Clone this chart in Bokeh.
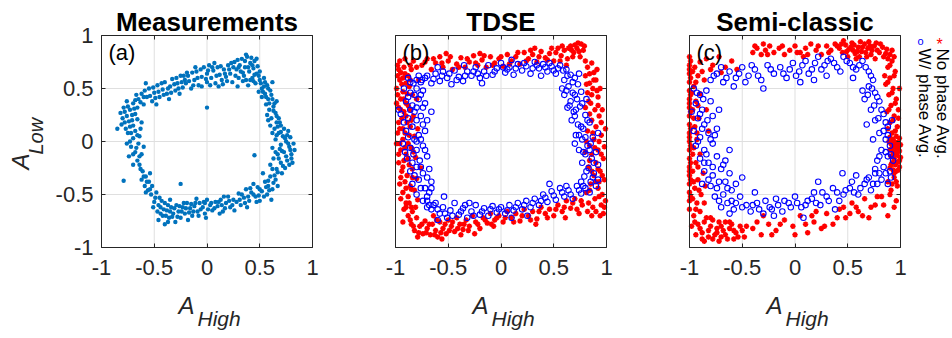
import math
from bokeh.plotting import figure
from bokeh.layouts import row
from bokeh.models import Range1d, FixedTicker, LinearAxis, Label
from bokeh.embed import file_html
from bokeh.resources import INLINE

# ---------------- data ----------------
titles = ["Measurements", "TDSE", "Semi-classic"]
panel_tags = ["(a)", "(b)", "(c)"]
tick_values = [-1.0, -0.5, 0.0, 0.5, 1.0]
tick_labels = ["-1", "-0.5", "0", "0.5", "1"]
legend_labels = ["No phase Avg.", "W/ phase Avg."]
x_label_main, x_label_sub = "A", "High"
y_label_main, y_label_sub = "A", "Low"

meas_points = [
    (-0.20,0.55),(-0.18,0.62),(-0.15,0.50),(-0.12,0.58),(-0.10,0.66),(-0.08,0.53),(-0.05,0.61),(-0.03,0.70),
    (0.00,0.56),(0.00,0.64),(0.02,0.72),(0.04,0.60),(0.06,0.67),(0.08,0.55),(0.10,0.70),(0.12,0.63),(0.14,0.58),
    (0.16,0.68),(0.18,0.61),(0.20,0.72),(-0.05,0.52),(0.07,0.74),(0.11,0.52),(-0.14,0.65),
    (-0.17,0.57),(-0.13,0.53),(-0.09,0.60),(-0.06,0.68),(-0.01,0.59),(0.01,0.67),(0.03,0.53),(0.05,0.70),(0.09,0.62),
    (0.13,0.71),(0.15,0.54),(0.17,0.64),(0.19,0.57),(0.21,0.68),(-0.19,0.65),(-0.11,0.70),
    (0.22,0.64),(0.24,0.56),(0.26,0.75),(0.28,0.68),(0.30,0.60),(0.31,0.72),(0.33,0.78),(0.34,0.65),(0.36,0.70),
    (0.37,0.58),(0.38,0.80),(0.40,0.66),(0.41,0.74),(0.43,0.60),(0.44,0.69),(0.45,0.76),(0.46,0.55),(0.47,0.64),
    (0.48,0.71),(0.50,0.58),(0.50,0.66),(0.25,0.70),(0.29,0.52),(0.39,0.53),(0.35,0.62),(0.42,0.79),
    (0.23,0.74),(0.27,0.62),(0.29,0.77),(0.32,0.66),(0.34,0.57),(0.36,0.76),(0.39,0.70),(0.41,0.58),(0.43,0.72),
    (0.45,0.63),(0.47,0.78),(0.49,0.62),(0.37,0.82),(0.44,0.57),(0.30,0.70),
    (0.52,0.50),(0.54,0.60),(0.55,0.45),(0.57,0.53),(0.58,0.40),(0.60,0.48),(0.52,0.42),(0.56,0.35),(0.59,0.30),
    (0.62,0.40),(0.63,0.33),(0.61,0.22),(0.65,0.27),(0.66,0.18),(0.64,0.12),(0.68,0.22),(0.57,0.25),(0.49,0.47),
    (0.62,0.56),(0.66,0.38),(0.70,0.15),(0.60,0.15),
    (0.51,0.55),(0.53,0.47),(0.55,0.56),(0.56,0.42),(0.58,0.50),(0.59,0.36),(0.61,0.44),(0.63,0.29),(0.64,0.36),
    (0.66,0.24),(0.67,0.14),(0.69,0.18),(0.58,0.20),(0.62,0.08),(0.54,0.52),
    (0.68,0.08),(0.72,0.05),(0.65,0.02),(0.75,0.00),(0.70,-0.03),(0.78,-0.05),(0.62,-0.06),(0.73,-0.10),(0.67,-0.12),
    (0.80,-0.12),(0.76,-0.18),(0.70,-0.20),(0.63,-0.16),(0.74,-0.25),(0.66,-0.26),(0.71,-0.30),(0.82,-0.02),(0.79,0.04),
    (0.60,-0.22),(0.77,0.10),(0.69,-0.07),(0.81,-0.20),(0.64,-0.32),(0.73,0.12),
    (0.66,0.06),(0.70,0.09),(0.74,0.03),(0.77,-0.02),(0.71,-0.09),(0.65,-0.10),(0.79,-0.08),(0.75,-0.14),(0.68,-0.16),
    (0.72,-0.23),(0.78,-0.22),(0.67,-0.29),(0.62,-0.26),(0.76,0.06),(0.83,-0.08),(0.80,-0.16),
    (0.65,-0.36),(0.60,-0.33),(0.58,-0.42),(0.62,-0.45),(0.55,-0.38),(0.52,-0.47),(0.57,-0.50),(0.48,-0.43),(0.46,-0.52),
    (0.50,-0.56),(0.42,-0.48),(0.40,-0.56),(0.37,-0.45),(0.35,-0.53),(0.32,-0.60),(0.30,-0.49),(0.53,-0.30),(0.44,-0.40),
    (0.38,-0.62),(0.61,-0.55),(0.67,-0.42),(0.28,-0.57),
    (0.63,-0.39),(0.59,-0.46),(0.56,-0.43),(0.54,-0.52),(0.50,-0.45),(0.47,-0.57),(0.44,-0.50),(0.41,-0.44),(0.39,-0.52),
    (0.36,-0.58),(0.33,-0.50),(0.31,-0.55),(0.58,-0.37),(0.49,-0.51),
    (0.25,-0.55),(0.22,-0.62),(0.20,-0.52),(0.18,-0.58),(0.15,-0.66),(0.13,-0.55),(0.10,-0.61),(0.08,-0.57),(0.05,-0.65),
    (0.03,-0.60),(0.00,-0.55),(-0.02,-0.68),(-0.04,-0.62),(-0.07,-0.58),(-0.09,-0.66),(-0.12,-0.61),(-0.14,-0.70),
    (-0.16,-0.63),(-0.19,-0.58),(-0.21,-0.68),(-0.23,-0.62),(-0.25,-0.72),(-0.27,-0.66),(-0.29,-0.60),(-0.30,-0.76),
    (-0.02,-0.58),(0.12,-0.68),(-0.10,-0.54),(0.26,-0.65),(-0.18,-0.74),
    (0.24,-0.60),(0.21,-0.56),(0.17,-0.63),(0.14,-0.60),(0.11,-0.57),(0.07,-0.63),(0.04,-0.58),(0.01,-0.64),(-0.03,-0.57),
    (-0.06,-0.64),(-0.08,-0.70),(-0.11,-0.58),(-0.13,-0.66),(-0.15,-0.59),(-0.17,-0.67),(-0.20,-0.63),(-0.22,-0.58),
    (-0.24,-0.66),(-0.26,-0.61),(-0.28,-0.71),(0.16,-0.52),(-0.01,-0.72),
    (-0.32,-0.68),(-0.34,-0.62),(-0.36,-0.72),(-0.38,-0.65),(-0.40,-0.58),(-0.42,-0.70),(-0.44,-0.62),(-0.45,-0.53),
    (-0.47,-0.66),(-0.48,-0.48),(-0.50,-0.57),(-0.52,-0.42),(-0.53,-0.50),(-0.55,-0.38),(-0.56,-0.46),(-0.58,-0.33),
    (-0.59,-0.42),(-0.61,-0.28),(-0.62,-0.36),(-0.40,-0.78),(-0.35,-0.55),(-0.46,-0.74),(-0.54,-0.30),(-0.64,-0.22),
    (-0.31,-0.63),(-0.33,-0.71),(-0.35,-0.66),(-0.37,-0.60),(-0.39,-0.70),(-0.41,-0.64),(-0.43,-0.56),(-0.46,-0.60),
    (-0.49,-0.53),(-0.51,-0.62),(-0.54,-0.45),(-0.57,-0.38),(-0.60,-0.33),(-0.58,-0.48),(-0.63,-0.26),(-0.44,-0.68),
    (-0.37,-0.76),
    (-0.66,-0.18),(-0.68,-0.10),(-0.62,-0.12),(-0.72,-0.05),(-0.65,-0.02),(-0.70,0.03),(-0.75,0.08),(-0.68,0.10),
    (-0.73,0.14),(-0.78,0.18),(-0.64,0.05),(-0.71,0.20),(-0.76,0.24),(-0.68,0.26),(-0.80,0.22),(-0.73,0.30),(-0.66,0.32),
    (-0.82,0.27),(-0.85,0.12),(-0.60,-0.05),(-0.70,-0.22),(-0.76,-0.02),(-0.62,0.18),(-0.79,0.32),(-0.74,-0.14),
    (-0.64,-0.14),(-0.67,-0.06),(-0.70,-0.12),(-0.73,0.00),(-0.66,0.06),(-0.72,0.08),(-0.77,0.12),(-0.70,0.15),
    (-0.74,0.19),(-0.66,0.21),(-0.78,0.28),(-0.71,0.25),(-0.69,0.31),(-0.81,0.16),(-0.63,0.12),(-0.75,0.33),
    (-0.70,0.36),(-0.65,0.40),(-0.60,0.35),(-0.62,0.45),(-0.57,0.42),(-0.55,0.50),(-0.52,0.38),(-0.50,0.46),(-0.47,0.53),
    (-0.45,0.42),(-0.42,0.49),(-0.40,0.56),(-0.38,0.45),(-0.35,0.52),(-0.33,0.59),(-0.30,0.48),(-0.28,0.55),(-0.25,0.62),
    (-0.23,0.51),(-0.21,0.58),(-0.76,0.38),(-0.58,0.55),(-0.36,0.40),(-0.26,0.45),(-0.48,0.35),
    (-0.68,0.39),(-0.63,0.37),(-0.60,0.42),(-0.59,0.48),(-0.54,0.43),(-0.51,0.51),(-0.49,0.41),(-0.46,0.47),(-0.43,0.55),
    (-0.41,0.44),(-0.37,0.50),(-0.34,0.46),(-0.31,0.54),(-0.29,0.60),(-0.27,0.50),(-0.24,0.56),(-0.22,0.62),(-0.67,0.44),
    (0.00,0.32),(0.45,-0.13),(-0.25,-0.40),(-0.79,-0.37),
]

tdse_no_phase = [
    (-0.98,0.72),(-0.95,0.65),(-0.92,0.70),(-0.88,0.62),(-0.96,0.58),(-0.90,0.55),(-0.85,0.68),(-0.99,0.50),(-0.93,0.47),
    (-0.87,0.52),(-0.95,0.40),(-0.90,0.36),(-0.84,0.44),(-0.97,0.32),(-0.92,0.28),(-0.86,0.30),(-0.94,0.22),(-0.89,0.18),
    (-0.83,0.24),(-0.96,0.12),(-0.91,0.08),(-0.86,0.14),(-0.93,0.02),(-0.88,-0.02),(-0.82,0.05),(-0.95,-0.08),(-0.90,-0.12),
    (-0.85,-0.06),(-0.92,-0.18),(-0.87,-0.22),(-0.81,-0.15),(-0.94,-0.28),(-0.89,-0.32),(-0.84,-0.26),(-0.91,-0.38),
    (-0.86,-0.42),(-0.80,-0.35),(-0.93,-0.48),(-0.88,-0.52),(-0.82,-0.46),(-0.90,-0.58),(-0.85,-0.62),(-0.79,-0.55),
    (-0.97,0.18),(-0.99,-0.02),(-0.80,0.40),(-0.78,0.58),(-0.83,0.76),(-0.91,0.78),(-0.97,-0.20),(-0.96,-0.40),(-0.76,-0.25),
    (-0.79,0.12),(-0.98,0.62),(-0.89,0.45),(-0.85,-0.45),(-0.93,0.60),
    (-0.97,0.68),(-0.94,0.54),(-0.91,0.64),(-0.86,0.58),(-0.98,0.44),(-0.92,0.40),(-0.88,0.34),(-0.95,0.30),(-0.90,0.24),
    (-0.85,0.20),(-0.98,0.08),(-0.93,0.12),(-0.87,0.06),(-0.96,-0.02),(-0.91,-0.06),(-0.83,-0.10),(-0.97,-0.12),
    (-0.93,-0.24),(-0.88,-0.16),(-0.95,-0.34),(-0.90,-0.44),(-0.84,-0.34),(-0.95,-0.54),(-0.87,-0.58),(-0.92,-0.64),
    (-0.81,-0.62),(-0.99,0.36),(-0.86,0.72),(-0.80,0.70),(-0.96,0.76),
    (-0.75,0.72),(-0.70,0.78),(-0.66,0.68),(-0.62,0.74),(-0.58,0.80),(-0.55,0.70),(-0.50,0.76),(-0.46,0.68),(-0.42,0.73),
    (-0.38,0.79),(-0.34,0.70),(-0.30,0.75),(-0.26,0.81),(-0.22,0.72),(-0.18,0.77),(-0.14,0.70),(-0.10,0.80),(-0.06,0.74),
    (-0.02,0.78),(0.02,0.71),(0.06,0.82),(0.10,0.76),(0.14,0.80),(0.18,0.73),(0.22,0.84),(0.26,0.78),(0.30,0.82),
    (0.34,0.75),(0.38,0.85),(0.42,0.79),(0.46,0.83),(0.50,0.76),(0.54,0.88),(0.57,0.81),(0.60,0.86),(0.63,0.78),(0.66,0.90),
    (0.69,0.84),(0.72,0.88),(0.75,0.80),(0.78,0.86),(0.80,0.76),(0.58,0.90),(0.70,0.91),(0.62,0.72),(0.48,0.88),(-0.20,0.83),
    (0.32,0.88),(-0.52,0.83),(0.76,0.92),
    (-0.72,0.75),(-0.64,0.78),(-0.56,0.74),(-0.48,0.80),(-0.40,0.70),(-0.32,0.78),(-0.24,0.74),(-0.16,0.81),(-0.08,0.72),
    (0.00,0.80),(0.08,0.73),(0.16,0.84),(0.24,0.76),(0.28,0.86),(0.36,0.80),(0.44,0.77),(0.52,0.84),(0.56,0.76),(0.64,0.88),
    (0.68,0.80),(0.73,0.93),(0.74,0.85),(0.79,0.90),(0.67,0.86),
    (0.82,0.70),(0.86,0.74),(0.80,0.62),(0.88,0.65),(0.84,0.55),(0.90,0.58),(0.82,0.46),(0.87,0.50),(0.92,0.42),(0.85,0.36),
    (0.89,0.30),(0.80,0.32),(0.93,0.24),(0.86,0.20),(0.90,0.14),(0.82,0.10),(0.95,0.06),(0.88,0.02),(0.84,-0.04),(0.92,-0.08),
    (0.86,-0.12),(0.97,-0.16),(0.90,-0.20),(0.83,-0.24),(0.94,-0.28),(0.88,-0.32),(0.98,-0.36),(0.85,-0.40),(0.92,-0.44),
    (0.96,-0.50),(0.89,-0.54),(0.83,-0.58),(0.95,-0.60),(0.90,-0.66),(0.86,-0.70),(0.99,-0.56),(0.98,-0.05),(0.99,0.12),
    (0.94,0.50),(0.97,-0.68),(0.81,-0.48),(0.91,0.68),(0.96,0.30),(0.80,-0.10),(0.93,-0.38),
    (0.84,0.64),(0.88,0.58),(0.81,0.54),(0.91,0.48),(0.86,0.44),(0.83,0.38),(0.92,0.34),(0.84,0.26),(0.95,0.18),(0.87,0.08),
    (0.93,0.00),(0.81,0.00),(0.89,-0.06),(0.95,-0.12),(0.84,-0.18),(0.92,-0.26),(0.86,-0.28),(0.96,-0.32),(0.90,-0.38),
    (0.84,-0.46),(0.93,-0.52),(0.87,-0.62),(0.98,-0.62),(0.82,-0.66),(0.94,-0.70),
    (-0.88,-0.70),(-0.85,-0.78),(-0.82,-0.84),(-0.80,-0.72),(-0.77,-0.80),(-0.74,-0.87),(-0.72,-0.75),(-0.70,-0.82),
    (-0.67,-0.88),(-0.65,-0.78),(-0.62,-0.84),(-0.60,-0.90),(-0.58,-0.76),(-0.55,-0.82),(-0.52,-0.87),(-0.50,-0.74),
    (-0.47,-0.80),(-0.44,-0.85),(-0.42,-0.72),(-0.39,-0.78),(-0.36,-0.83),(-0.33,-0.74),(-0.30,-0.80),(-0.27,-0.70),
    (-0.24,-0.76),(-0.20,-0.82),(-0.17,-0.72),(-0.13,-0.77),(-0.10,-0.68),(-0.06,-0.74),(-0.02,-0.70),(0.02,-0.76),
    (0.06,-0.66),(0.10,-0.72),(0.14,-0.68),(0.18,-0.75),(0.22,-0.64),(0.26,-0.70),(0.30,-0.66),(0.34,-0.73),(0.38,-0.62),
    (0.42,-0.68),(0.46,-0.64),(0.50,-0.70),(0.54,-0.60),(0.58,-0.66),(0.62,-0.56),(0.66,-0.63),(0.70,-0.54),(0.74,-0.68),
    (0.77,-0.60),(-0.90,-0.62),(-0.93,-0.76),(-0.79,-0.90),(-0.56,-0.92),(-0.38,-0.88),(-0.07,-0.80),(0.33,-0.78),
    (0.61,-0.72),(-0.64,-0.70),(-0.84,-0.66),(-0.25,-0.87),
    (-0.86,-0.74),(-0.83,-0.80),(-0.78,-0.86),(-0.75,-0.78),(-0.71,-0.86),(-0.68,-0.78),(-0.63,-0.88),(-0.61,-0.74),
    (-0.57,-0.86),(-0.53,-0.78),(-0.49,-0.84),(-0.46,-0.76),(-0.41,-0.82),(-0.35,-0.78),(-0.31,-0.84),(-0.22,-0.78),
    (-0.15,-0.74),(-0.09,-0.78),(-0.04,-0.72),(0.04,-0.72),(0.12,-0.76),(0.20,-0.70),(0.28,-0.74),(0.36,-0.66),(0.44,-0.72),
    (0.52,-0.64),(0.60,-0.62),(0.68,-0.58),(0.72,-0.64),(0.76,-0.56),
]

tdse_with_phase = [
    (-0.75,0.58),(-0.70,0.62),(-0.66,0.55),(-0.62,0.64),(-0.58,0.57),(-0.55,0.66),(-0.51,0.60),(-0.47,0.54),(-0.44,0.67),
    (-0.40,0.61),(-0.36,0.57),(-0.32,0.66),(-0.28,0.62),(-0.24,0.70),(-0.20,0.60),(-0.16,0.66),(-0.12,0.72),(-0.08,0.63),
    (-0.04,0.69),(0.00,0.74),(0.04,0.65),(0.08,0.70),(0.12,0.63),(0.16,0.73),(0.20,0.67),(0.24,0.71),(0.28,0.64),(0.32,0.75),
    (0.36,0.69),(0.40,0.73),(0.44,0.66),(0.48,0.71),(0.52,0.64),(0.56,0.72),(0.59,0.67),(-0.60,0.70),(-0.35,0.72),(0.10,0.77),
    (0.38,0.62),(-0.18,0.55),
    (-0.72,0.60),(-0.64,0.59),(-0.56,0.62),(-0.49,0.64),(-0.42,0.58),(-0.34,0.62),(-0.26,0.66),(-0.22,0.64),(-0.14,0.62),
    (-0.06,0.66),(0.02,0.70),(0.06,0.68),(0.14,0.69),(0.22,0.74),(0.30,0.69),(0.34,0.72),(0.42,0.70),(0.46,0.74),(0.50,0.67),
    (0.54,0.69),
    (0.62,0.68),(0.66,0.63),(0.60,0.58),(0.70,0.60),(0.64,0.52),(0.68,0.46),(0.73,0.54),(0.60,0.44),(0.66,0.38),(0.72,0.40),
    (0.76,0.47),(0.63,0.32),(0.69,0.28),(0.75,0.33),(0.80,0.25),(0.67,0.20),(0.73,0.16),(0.78,0.12),(0.84,0.18),(0.71,0.06),
    (0.77,0.02),(0.82,-0.04),(0.87,0.04),(0.74,-0.08),(0.80,-0.12),(0.86,-0.16),(0.90,-0.10),(0.77,-0.20),(0.83,-0.25),
    (0.88,-0.30),(0.92,-0.22),(0.79,-0.33),(0.85,-0.38),(0.90,-0.42),(0.74,0.64),(0.81,0.40),(0.58,0.50),(0.92,0.08),(0.70,-0.02),
    (0.63,0.62),(0.68,0.56),(0.62,0.48),(0.70,0.44),(0.65,0.34),(0.71,0.30),(0.77,0.36),(0.70,0.24),(0.76,0.14),(0.82,0.20),
    (0.74,0.06),(0.80,0.04),(0.85,-0.02),(0.78,-0.10),(0.84,-0.08),(0.88,-0.20),(0.81,-0.28),(0.87,-0.34),(0.76,-0.38),
    (0.92,-0.36),
    (-0.70,-0.56),(-0.66,-0.64),(-0.62,-0.58),(-0.58,-0.68),(-0.55,-0.62),(-0.51,-0.72),(-0.48,-0.65),(-0.44,-0.58),
    (-0.40,-0.69),(-0.36,-0.63),(-0.32,-0.72),(-0.28,-0.66),(-0.24,-0.60),(-0.20,-0.69),(-0.16,-0.63),(-0.12,-0.70),
    (-0.08,-0.61),(-0.04,-0.67),(0.00,-0.62),(0.04,-0.68),(0.08,-0.60),(0.12,-0.65),(0.16,-0.58),(0.20,-0.64),(0.24,-0.56),
    (0.28,-0.62),(0.32,-0.54),(0.36,-0.60),(0.40,-0.50),(0.44,-0.57),(0.48,-0.47),(0.52,-0.55),(0.56,-0.44),(0.60,-0.52),
    (0.64,-0.46),(0.68,-0.54),(0.72,-0.42),(0.76,-0.49),(0.80,-0.44),(0.84,-0.48),(-0.54,-0.52),(-0.30,-0.58),(0.10,-0.72),
    (0.46,-0.40),(-0.60,-0.74),(0.25,-0.70),
    (-0.68,-0.60),(-0.60,-0.64),(-0.53,-0.68),(-0.46,-0.70),(-0.38,-0.66),(-0.34,-0.60),(-0.26,-0.70),(-0.18,-0.66),
    (-0.10,-0.64),(-0.02,-0.64),(0.06,-0.65),(0.14,-0.62),(0.22,-0.60),(0.30,-0.58),(0.38,-0.56),(0.42,-0.53),(0.50,-0.51),
    (0.58,-0.48),(0.66,-0.50),(0.74,-0.46),(0.78,-0.42),(0.62,-0.42),
    (-0.88,0.60),(-0.83,0.55),(-0.78,0.62),(-0.92,0.50),(-0.86,0.46),(-0.80,0.50),(-0.74,0.48),(-0.90,0.38),(-0.84,0.34),
    (-0.78,0.40),(-0.72,0.36),(-0.95,0.26),(-0.88,0.22),(-0.82,0.28),(-0.76,0.24),(-0.70,0.20),(-0.90,0.10),(-0.84,0.14),
    (-0.78,0.06),(-0.72,0.10),(-0.93,-0.02),(-0.86,-0.06),(-0.80,0.00),(-0.74,-0.04),(-0.89,-0.16),(-0.83,-0.12),(-0.77,-0.18),
    (-0.70,-0.14),(-0.86,-0.28),(-0.80,-0.24),(-0.74,-0.30),(-0.68,-0.26),(-0.84,-0.40),(-0.78,-0.36),(-0.72,-0.44),
    (-0.66,-0.38),(-0.80,-0.50),(-0.74,-0.56),(-0.68,-0.48),(-0.64,-0.60),(-0.97,0.30),(-0.66,0.28),(-0.70,-0.62),(-0.76,0.56),
    (-0.86,0.56),(-0.80,0.58),(-0.88,0.42),(-0.82,0.44),(-0.76,0.44),(-0.86,0.30),(-0.80,0.32),(-0.74,0.32),(-0.92,0.18),
    (-0.80,0.20),(-0.74,0.16),(-0.88,0.04),(-0.82,0.02),(-0.76,0.02),(-0.91,-0.10),(-0.80,-0.08),(-0.72,-0.08),(-0.84,-0.20),
    (-0.76,-0.24),(-0.82,-0.32),(-0.70,-0.34),(-0.76,-0.44),(-0.70,-0.52),(-0.66,-0.44),
]

semi_no_phase = [
    (-1.00,0.80),(-1.00,0.72),(-1.00,0.64),(-1.00,0.56),(-1.00,0.48),(-1.00,0.40),(-1.00,0.32),(-1.00,0.24),(-1.00,0.16),
    (-1.00,0.08),(-1.00,0.00),(-1.00,-0.08),(-1.00,-0.16),(-1.00,-0.24),(-1.00,-0.32),(-1.00,-0.40),(-1.00,-0.48),
    (-1.00,-0.56),(-1.00,-0.64),(-0.99,0.76),(-0.99,0.60),(-0.99,0.44),(-0.99,0.28),(-0.99,0.12),(-0.99,-0.04),(-0.99,-0.20),
    (-0.99,-0.36),(-0.99,-0.52),(-1.00,0.68),(-1.00,0.36),(-1.00,0.04),(-1.00,-0.28),
    (-0.95,0.70),(-0.92,0.62),(-0.96,0.52),(-0.90,0.45),(-0.94,0.38),(-0.97,0.30),(-0.91,0.22),(-0.95,0.14),(-0.93,0.02),
    (-0.96,-0.06),(-0.90,-0.12),(-0.94,-0.20),(-0.97,-0.28),(-0.92,-0.36),(-0.95,-0.44),(-0.89,-0.50),(-0.93,-0.58),
    (-0.86,0.58),(-0.84,0.30),(-0.87,-0.30),(-0.82,0.10),(-0.85,-0.42),(-0.90,0.75),(-0.80,0.68),
    (-0.97,0.66),(-0.94,0.56),(-0.98,0.46),(-0.92,0.34),(-0.96,0.22),(-0.93,0.08),(-0.97,-0.12),(-0.92,-0.24),(-0.96,-0.38),
    (-0.91,-0.46),(-0.97,-0.54),(-0.94,-0.64),(-0.88,0.66),(-0.86,-0.58),
    (-0.84,0.78),(-0.78,0.72),(-0.72,0.80),(-0.66,0.70),(-0.60,0.76),(-0.55,0.68),(-0.70,0.65),
    (-0.40,0.84),(-0.36,0.88),(-0.32,0.82),(-0.28,0.86),(-0.24,0.90),(-0.20,0.84),(-0.15,0.88),(-0.10,0.82),(-0.05,0.86),
    (0.00,0.90),(0.05,0.84),(0.10,0.88),(0.15,0.92),(0.20,0.86),(0.25,0.82),(0.30,0.90),(0.34,0.86),(0.38,0.92),(0.42,0.88),
    (0.45,0.84),(0.48,0.91),(0.51,0.87),(0.54,0.93),(0.57,0.83),(0.60,0.89),(0.63,0.85),(0.66,0.92),(0.69,0.88),(0.72,0.82),
    (0.75,0.90),(0.78,0.86),(0.81,0.92),(0.84,0.80),(0.87,0.87),(0.90,0.82),(0.50,0.80),(0.62,0.94),(0.70,0.94),(0.58,0.78),
    (0.46,0.95),(0.76,0.78),(-0.30,0.92),(0.08,0.80),
    (-0.38,0.90),(-0.26,0.82),(-0.12,0.90),(0.02,0.84),(0.12,0.82),(0.22,0.90),(0.32,0.84),(0.40,0.90),(0.44,0.92),
    (0.49,0.85),(0.53,0.89),(0.56,0.91),(0.59,0.85),(0.61,0.80),(0.64,0.89),(0.67,0.84),(0.71,0.90),(0.73,0.86),(0.77,0.93),
    (0.80,0.84),(0.83,0.89),(0.86,0.83),(0.88,0.78),(0.92,0.86),(0.94,0.80),(0.68,0.80),(0.55,0.86),
    (0.92,0.76),(0.88,0.70),(0.95,0.66),(0.90,0.60),(0.86,0.54),(0.93,0.50),(0.89,0.44),(0.96,0.40),(0.91,0.34),(0.87,0.28),
    (0.94,0.24),(0.90,0.18),(0.97,0.14),(0.92,0.08),(0.88,0.12),
    (0.90,0.72),(0.94,0.62),(0.88,0.56),(0.92,0.46),(0.95,0.36),(0.89,0.30),(0.93,0.20),(0.98,0.22),(0.95,0.10),
    (0.90,0.04),(0.93,0.02),(0.96,0.05),(0.99,0.03),(0.91,-0.02),(0.94,-0.04),(0.97,-0.01),(1.00,-0.03),(0.90,-0.08),
    (0.93,-0.10),(0.96,-0.07),(0.99,-0.09),(0.91,-0.14),(0.94,-0.16),(0.97,-0.13),(1.00,-0.15),(0.92,-0.20),(0.95,-0.22),
    (0.98,-0.19),(0.90,-0.25),(0.93,-0.27),(0.96,-0.28),(0.99,-0.24),
    (0.89,0.00),(0.95,-0.01),(0.98,-0.05),(0.92,-0.06),(0.97,-0.10),(0.95,-0.12),(0.99,-0.18),(0.93,-0.14),(0.96,-0.20),
    (0.91,-0.22),(0.98,-0.27),(0.94,-0.30),(0.96,-0.38),(0.92,-0.40),
    (0.94,-0.34),(0.88,-0.38),(0.97,-0.42),(0.91,-0.46),(0.98,0.30),(0.85,0.62),(0.99,0.50),
    (-0.96,-0.70),(-0.92,-0.78),(-0.88,-0.86),(-0.84,-0.72),(-0.80,-0.80),(-0.76,-0.88),(-0.72,-0.76),(-0.68,-0.84),
    (-0.64,-0.92),(-0.60,-0.78),(-0.56,-0.86),(-0.52,-0.80),(-0.48,-0.90),(-0.94,-0.88),(-0.86,-0.94),(-0.78,-0.74),
    (-0.70,-0.90),(-0.62,-0.82),(-0.90,-0.66),(-0.82,-0.90),(-0.74,-0.82),(-0.66,-0.76),(-0.58,-0.92),(-0.98,-0.80),
    (-0.95,-0.76),(-0.90,-0.82),(-0.86,-0.76),(-0.82,-0.84),(-0.78,-0.92),(-0.74,-0.86),(-0.70,-0.80),(-0.66,-0.88),
    (-0.62,-0.76),(-0.58,-0.84),(-0.54,-0.90),(-0.50,-0.84),(-0.46,-0.80),(-0.88,-0.92),(-0.80,-0.72),(-0.72,-0.94),
    (-0.40,-0.82),(-0.32,-0.88),(-0.25,-0.78),(-0.18,-0.84),(-0.10,-0.74),(-0.02,-0.80),(0.05,-0.70),(0.12,-0.86),
    (0.18,-0.76),(0.25,-0.82),(0.30,-0.68),(0.36,-0.78),(0.42,-0.64),(0.48,-0.72),(0.54,-0.58),(0.60,-0.66),(0.66,-0.54),
    (0.72,-0.62),(0.78,-0.52),(0.84,-0.60),(0.90,-0.50),(0.96,-0.56),(0.70,-0.72),(0.20,-0.66),(-0.30,-0.70),(0.88,-0.70),
    (-0.36,-0.76),(-0.22,-0.88),(-0.14,-0.78),(0.00,-0.88),(0.10,-0.78),(0.16,-0.70),(0.28,-0.80),(0.40,-0.72),(0.46,-0.62),
    (0.52,-0.68),(0.58,-0.62),(0.64,-0.70),(0.76,-0.60),(0.82,-0.52),(0.94,-0.62),
]

semi_with_phase = [
    (-0.80,0.58),(-0.74,0.64),(-0.68,0.56),(-0.62,0.66),(-0.56,0.60),(-0.50,0.70),(-0.44,0.62),(-0.38,0.68),(-0.32,0.58),
    (-0.26,0.72),(-0.20,0.64),(-0.14,0.70),(-0.08,0.60),(-0.02,0.74),(0.04,0.66),(0.10,0.76),(0.16,0.68),(0.22,0.80),
    (0.28,0.72),(0.34,0.78),(0.40,0.70),(0.46,0.80),(0.52,0.74),(0.58,0.68),(0.64,0.76),(0.70,0.66),(0.74,0.58),(-0.58,0.52),
    (-0.30,0.50),(0.05,0.56),(0.30,0.62),(0.55,0.60),(-0.70,0.70),(0.18,0.58),
    (-0.77,0.62),(-0.65,0.60),(-0.53,0.64),(-0.47,0.56),(-0.41,0.72),(-0.35,0.62),(-0.23,0.68),(-0.11,0.64),(-0.05,0.68),
    (0.01,0.62),(0.07,0.72),(0.13,0.64),(0.19,0.74),(0.25,0.68),(0.31,0.76),(0.37,0.74),(0.43,0.66),(0.49,0.76),(0.55,0.70),
    (0.61,0.72),(0.67,0.70),(0.72,0.62),
    (0.70,0.52),(0.76,0.46),(0.66,0.40),(0.80,0.38),(0.72,0.30),(0.84,0.26),(0.76,0.20),(0.88,0.14),(0.80,0.08),(0.86,0.02),
    (0.90,-0.04),(0.82,-0.08),(0.88,-0.14),(0.78,-0.18),(0.84,-0.24),(0.90,-0.28),(0.76,-0.30),(0.82,-0.36),(0.70,-0.34),
    (0.88,-0.40),(0.64,0.48),(0.92,0.20),(0.74,0.02),(0.68,0.16),(0.93,-0.18),
    (0.73,0.50),(0.69,0.44),(0.78,0.42),(0.75,0.34),(0.82,0.30),(0.79,0.22),(0.86,0.18),(0.84,0.10),(0.88,0.06),(0.86,-0.10),
    (0.91,-0.12),(0.80,-0.14),(0.86,-0.30),(0.80,-0.30),(0.78,-0.40),(0.91,-0.34),
    (-0.96,0.50),(-0.90,0.44),(-0.84,0.48),(-0.94,0.36),(-0.88,0.30),(-0.80,0.38),(-0.92,0.22),(-0.86,0.16),(-0.78,0.24),
    (-0.96,0.10),(-0.90,0.04),(-0.82,0.08),(-0.74,0.12),(-0.94,-0.04),(-0.86,-0.08),(-0.78,-0.02),(-0.72,0.30),(-0.98,0.28),
    (-0.93,0.46),(-0.87,0.40),(-0.90,0.26),(-0.83,0.20),(-0.88,0.12),(-0.80,0.02),(-0.92,0.00),(-0.84,-0.12),(-0.76,0.06),
    (-0.90,-0.16),(-0.82,-0.20),(-0.74,-0.14),(-0.66,-0.18),(-0.86,-0.28),(-0.78,-0.32),(-0.70,-0.26),(-0.62,-0.30),
    (-0.80,-0.42),(-0.72,-0.38),(-0.64,-0.44),(-0.56,-0.40),(-0.76,-0.52),(-0.68,-0.50),(-0.60,-0.56),(-0.52,-0.52),
    (-0.70,-0.62),(-0.58,-0.64),(-0.46,-0.60),(-0.88,-0.40),(-0.62,-0.08),(-0.50,-0.34),
    (-0.86,-0.20),(-0.78,-0.24),(-0.68,-0.22),(-0.82,-0.36),(-0.74,-0.44),(-0.66,-0.38),(-0.60,-0.46),(-0.72,-0.56),
    (-0.64,-0.58),(-0.56,-0.58),(-0.50,-0.62),(-0.62,-0.68),
    (-0.42,-0.66),(-0.36,-0.58),(-0.30,-0.68),(-0.24,-0.62),(-0.18,-0.54),(-0.12,-0.66),(-0.06,-0.58),(0.00,-0.52),
    (0.06,-0.62),(0.12,-0.56),(0.18,-0.48),(0.24,-0.60),(0.30,-0.52),(0.36,-0.44),(0.42,-0.56),(0.48,-0.46),(0.54,-0.38),
    (0.60,-0.50),(0.66,-0.40),(0.72,-0.46),(-0.20,-0.70),(0.08,-0.72),(0.38,-0.64),(0.22,-0.38),(0.76,-0.26),(0.58,-0.32),
    (-0.38,-0.48),(0.45,-0.30),
    (-0.40,-0.60),(-0.34,-0.64),(-0.28,-0.56),(-0.22,-0.64),(-0.16,-0.60),(-0.10,-0.56),(-0.04,-0.62),(0.02,-0.58),
    (0.10,-0.60),(0.16,-0.54),(0.20,-0.58),(0.26,-0.48),(0.32,-0.56),(0.40,-0.48),(0.46,-0.50),(0.52,-0.44),(0.56,-0.48),
    (0.62,-0.44),(0.68,-0.36),(0.74,-0.40),
]

# ---------------- styling / layout ----------------
FONT = "Liberation Sans"
AXC = "#262626"
GRID = "#dfdfdf"
FW, FH = 211, 212          # pixel size of each axes box
TOP, BOTTOM = 35, 91       # pixels above / below the axes box
MEAS_COLOR = "#0072BD"
RED = "#FF0000"
BLUE = "#0000FF"

box_lefts = [101, 395, 689]          # global pixel x of each axes box
borders = [(101, 18), (65, 24), (59, 52)]


def style_axis(ax, show_labels, standoff, loc):
    ax.fixed_location = loc
    ax.bounds = (tick_values[0], tick_values[-1])
    ax.ticker = FixedTicker(ticks=tick_values)
    ax.major_label_overrides = {v: s for v, s in zip(tick_values, tick_labels)}
    ax.minor_tick_line_color = None
    ax.major_tick_in = 4
    ax.major_tick_out = 0
    ax.major_tick_line_color = AXC
    ax.axis_line_color = AXC
    ax.axis_line_width = 1
    ax.major_label_text_font = FONT
    ax.major_label_text_font_size = "22px"
    ax.major_label_text_color = AXC if show_labels else None
    ax.major_label_standoff = standoff


def make_fig(left, right, show_y):
    width = left + FW + right
    sx = 2.0 / FW
    sy = 2.0 / FH
    p = figure(width=width, height=TOP + FH + BOTTOM,
               min_border_left=0, min_border_right=0,
               min_border_top=0, min_border_bottom=0,
               x_range=Range1d(-1 - left * sx, 1 + right * sx),
               y_range=Range1d(-1 - BOTTOM * sy, 1 + TOP * sy),
               output_backend="svg", toolbar_location=None, tools="")
    p.outline_line_color = None
    p.background_fill_color = "white"
    p.border_fill_color = "white"
    p.xgrid.visible = False
    p.ygrid.visible = False
    lo, hi = tick_values[0], tick_values[-1]
    style_axis(p.xaxis[0], True, 12, lo)
    style_axis(p.yaxis[0], show_y, 8, lo)
    top_ax = LinearAxis()
    right_ax = LinearAxis()
    style_axis(top_ax, False, 0, hi)
    style_axis(right_ax, False, 0, hi)
    p.add_layout(top_ax, "above")
    p.add_layout(right_ax, "right")
    n = len(tick_values)
    p.segment(x0=tick_values, y0=[lo] * n, x1=tick_values, y1=[hi] * n,
              line_color=GRID, line_width=1, level="underlay")
    p.segment(x0=[lo] * n, y0=tick_values, x1=[hi] * n, y1=tick_values,
              line_color=GRID, line_width=1, level="underlay")
    return p


def add_label(p, box_left, text, x_px, y_px, size, style="normal", angle=0.0,
              align="left", baseline="alphabetic", color="#000000"):
    xd = (x_px - box_left) * 2.0 / FW - 1.0
    yd = 1.0 - (y_px - TOP) * 2.0 / FH
    p.add_layout(Label(x=xd, y=yd, text=text, text_font=FONT,
                       text_font_size=f"{size}px", text_font_style=style,
                       angle=angle, text_align=align, text_baseline=baseline,
                       text_color=color))


figs = [make_fig(borders[i][0], borders[i][1], i == 0) for i in range(3)]
pa, pb, pc = figs

pa.scatter([q[0] for q in meas_points], [q[1] for q in meas_points],
           marker="circle", size=4.4, fill_color=MEAS_COLOR, line_color=None)

for p, red_pts, blue_pts in ((pb, tdse_no_phase, tdse_with_phase), (pc, semi_no_phase, semi_with_phase)):
    p.scatter([q[0] for q in red_pts], [q[1] for q in red_pts], marker="asterisk",
              size=5.5, line_color=RED, line_width=1.6)
    p.scatter([q[0] for q in blue_pts], [q[1] for q in blue_pts], marker="circle",
              size=5.5, fill_color=None, line_color=BLUE, line_width=1.1)

for i, p in enumerate(figs):
    bl = box_lefts[i]
    cx = bl + FW / 2.0
    add_label(p, bl, titles[i], cx, 21, 26, style="bold", align="center")
    add_label(p, bl, panel_tags[i], bl + 7, 52, 22)
    add_label(p, bl, x_label_main, cx - 28.5, 305, 24, style="italic", color=AXC)
    add_label(p, bl, x_label_sub, cx - 9.5, 318, 21, style="italic", color=AXC)

# y label on the first panel (rotated)
add_label(pa, 101, y_label_main, 20, 169, 24, style="italic", angle=math.pi / 2, color=AXC)
add_label(pa, 101, y_label_sub, 35, 154, 20, style="italic", angle=math.pi / 2, color=AXC)

# rotated legend at the right of panel (c)
add_label(pc, 689, legend_labels[0], 942, 48, 17, angle=-math.pi / 2)
add_label(pc, 689, legend_labels[1], 924, 48, 17, angle=-math.pi / 2)
add_label(pc, 689, "*", 939, 44, 16, align="center", baseline="middle", color=RED)
add_label(pc, 689, "o", 920, 40, 11, align="center", baseline="middle", color=BLUE)

layout = row(pa, pb, pc, spacing=0)
open("out.html", "w").write(file_html(layout, INLINE))
